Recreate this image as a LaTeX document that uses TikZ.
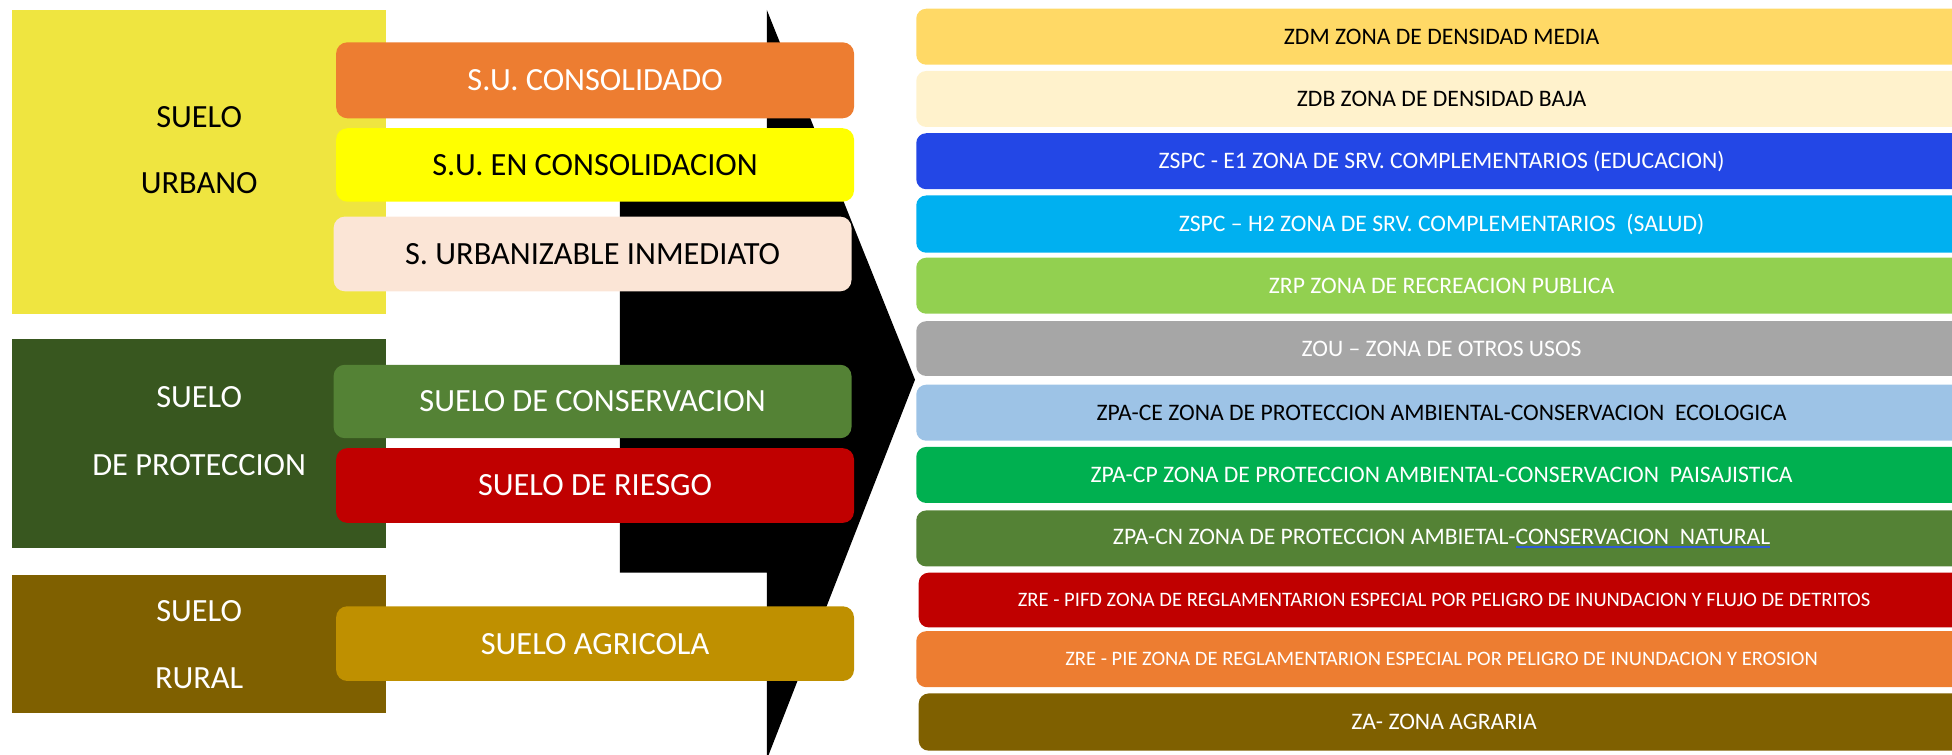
\documentclass[tikz,border=0pt]{standalone}
\usepackage{fontspec}
\setmainfont{Carlito}
\definecolor{urbY}{HTML}{EFE540}
\definecolor{protG}{HTML}{38571F}
\definecolor{rurB}{HTML}{7F6000}
\definecolor{cOrange}{HTML}{ED7D31}
\definecolor{cYellow}{HTML}{FFFF00}
\definecolor{cBeige}{HTML}{FBE5D6}
\definecolor{cGreen}{HTML}{548235}
\definecolor{cRed}{HTML}{C00000}
\definecolor{cGold}{HTML}{BF9000}
\definecolor{zdm}{HTML}{FFD966}
\definecolor{zdb}{HTML}{FFF2CC}
\definecolor{zblue}{HTML}{2347E6}
\definecolor{zsky}{HTML}{00B0F0}
\definecolor{zlime}{HTML}{92D050}
\definecolor{zgray}{HTML}{A6A6A6}
\definecolor{zpale}{HTML}{9DC3E6}
\definecolor{zgreen}{HTML}{00B050}
\definecolor{ulblue}{HTML}{2F5BD8}
\newcommand\blueul[1]{\begingroup\setbox0\hbox{#1}\rlap{\color{ulblue}\rule[-3pt]{\wd0}{1.3pt}}\box0\endgroup}
\begin{document}
\begin{tikzpicture}[x=1pt,y=-1pt,
  catbox/.style={draw=none,minimum width=300pt,inner sep=0pt},
  cattext/.style={font=\fontsize{26}{30}\selectfont,inner sep=0pt},
  rbox/.style={rounded corners=9pt,minimum width=416pt,inner sep=0pt,font=\fontsize{26}{30}\selectfont},
  zbox/.style={rounded corners=8pt,minimum width=844pt,inner sep=0pt,font=\fontsize{19}{22}\selectfont},
  zsmall/.style={font=\fontsize{16.5}{20}\selectfont}]
\useasboundingbox (0,0) rectangle (1568,606);
\begin{scope}
\clip (0,0) rectangle (1568,606);
% category boxes
\node[catbox,fill=urbY,minimum height=244pt] (urb) at (160,130) {};
\node[catbox,fill=protG,minimum height=168pt] (prot) at (160,356) {};
\node[catbox,fill=rurB,minimum height=111pt] (rur) at (160,517.5) {};
\node[cattext] (urb1) at (160,94) {SUELO};
\node[cattext] (urb2) at (160,147) {URBANO};
\node[cattext,text=white] (prot1) at (160,319) {SUELO};
\node[cattext,text=white] (prot2) at (160,374) {DE PROTECCION};
\node[cattext,text=white] (rur1) at (160,491) {SUELO};
\node[cattext,text=white] (rur2) at (160,545) {RURAL};
% black arrow
\fill[black] (498,140) -- (616,140) -- (616,8) -- (735,305) -- (616,610) -- (616,460) -- (498,460) -- cycle;
% sub boxes
\node[rbox,fill=cOrange,text=white,minimum height=61pt] (suc) at (478,64.5) {S.U. CONSOLIDADO};
\node[rbox,fill=cYellow,minimum height=59pt] (suec) at (478,132.5) {S.U. EN CONSOLIDACION};
\node[rbox,fill=cBeige,minimum height=60pt] (sui) at (476,204) {S. URBANIZABLE INMEDIATO};
\node[rbox,fill=cGreen,text=white,minimum height=59pt] (scons) at (476,322.5) {SUELO DE CONSERVACION};
\node[rbox,fill=cRed,text=white,minimum height=60pt] (sries) at (478,390) {SUELO DE RIESGO};
\node[rbox,fill=cGold,text=white,minimum height=60pt] (sagr) at (478,517) {SUELO AGRICOLA};
% zone boxes
\node[zbox,fill=zdm,minimum height=45pt] (z1) at (1158,29.5) {ZDM ZONA DE DENSIDAD MEDIA};
\node[zbox,fill=zdb,minimum height=45pt] (z2) at (1158,79.5) {ZDB ZONA DE DENSIDAD BAJA};
\node[zbox,fill=zblue,text=white,minimum height=45pt] (z3) at (1158,129.5) {ZSPC - E1 ZONA DE SRV. COMPLEMENTARIOS (EDUCACION)};
\node[zbox,fill=zsky,text=white,minimum height=46pt] (z4) at (1158,180) {ZSPC – H2 ZONA DE SRV. COMPLEMENTARIOS \ (SALUD)};
\node[zbox,fill=zlime,text=white,minimum height=45pt] (z5) at (1158,229.5) {ZRP ZONA DE RECREACION PUBLICA};
\node[zbox,fill=zgray,text=white,minimum height=44pt] (z6) at (1158,280) {ZOU – ZONA DE OTROS USOS};
\node[zbox,fill=zpale,minimum height=45pt] (z7) at (1158,331.5) {ZPA-CE ZONA DE PROTECCION AMBIENTAL-CONSERVACION \ ECOLOGICA};
\node[zbox,fill=zgreen,text=white,minimum height=45pt] (z8) at (1158,381.5) {ZPA-CP ZONA DE PROTECCION AMBIENTAL-CONSERVACION \ PAISAJISTICA};
\node[zbox,fill=cGreen,text=white,minimum height=45pt] (z9) at (1158,432.5) {ZPA-CN ZONA DE PROTECCION AMBIETAL-\blueul{CONSERVACION \ NATURAL}};
\node[zbox,zsmall,fill=cRed,text=white,minimum height=44pt] (z10) at (1160,482) {ZRE - PIFD ZONA DE REGLAMENTARION ESPECIAL POR PELIGRO DE INUNDACION Y FLUJO DE DETRITOS};
\node[zbox,zsmall,fill=cOrange,text=white,minimum height=45pt] (z11) at (1158,529.5) {ZRE - PIE ZONA DE REGLAMENTARION ESPECIAL POR PELIGRO DE INUNDACION Y EROSION};
\node[zbox,fill=rurB,text=white,minimum height=46pt] (z12) at (1160,580) {ZA- ZONA AGRARIA};
\end{scope}
\end{tikzpicture}
\end{document}
